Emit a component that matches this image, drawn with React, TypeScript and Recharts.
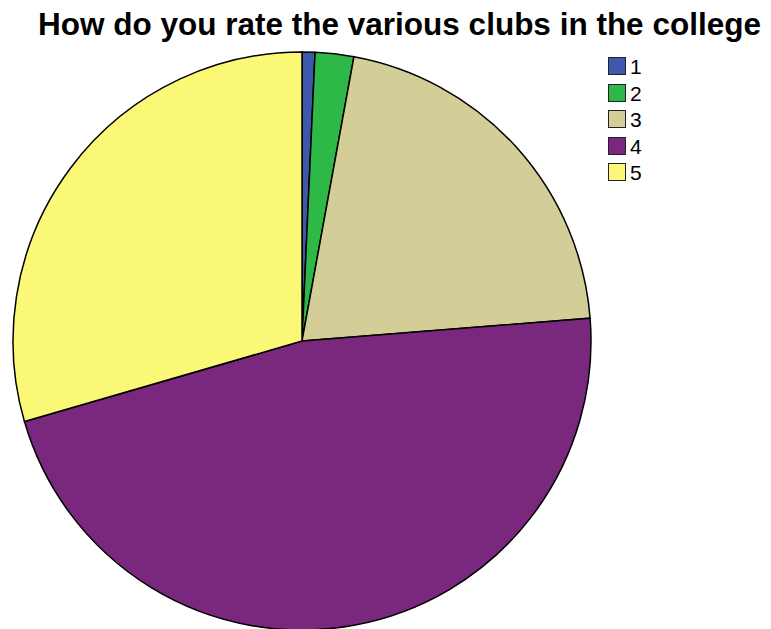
import React from "react";
import { PieChart, Pie, Cell } from "recharts";

const categories = ["1", "2", "3", "4", "5"];
const counts = [1, 3, 29, 65, 41];
const colors = ["#3E58AC", "#2EB848", "#D3CE97", "#79287E", "#FBF877"];
const title = "How do you rate the various clubs in the college";

const data = categories.map((c, i) => ({ name: c, value: counts[i] }));

const LegendBox = () => (
  <div
    style={{
      position: "absolute",
      left: 608,
      top: 57,
      fontFamily: "Liberation Sans, Arial, sans-serif",
      fontSize: 21,
    }}
  >
    {categories.map((c, i) => (
      <div key={c} style={{ display: "flex", alignItems: "center", height: 26.5 }}>
        <div
          style={{
            width: 18,
            height: 18,
            boxSizing: "border-box",
            background: colors[i],
            border: "1.5px solid #222",
            marginRight: 4,
            alignSelf: "flex-start",
          }}
        />
        <span style={{ color: "#000", lineHeight: "18px", alignSelf: "flex-start", marginTop: 1 }}>{c}</span>
      </div>
    ))}
  </div>
);

export default function App() {
  return (
    <div style={{ position: "absolute", left: 0, top: 0, width: 771, height: 629, background: "#fff" }}>
      <div
        style={{
          position: "absolute",
          left: 0,
          top: 6,
          width: 799,
          textAlign: "center",
          fontFamily: "Liberation Sans, Arial, sans-serif",
          fontWeight: "bold",
          fontSize: 31.5,
          color: "#000",
          whiteSpace: "nowrap",
        }}
      >
        {title}
      </div>
      <PieChart width={771} height={629} margin={{ top: 0, right: 0, bottom: 0, left: 0 }}>
        <Pie
          data={data}
          dataKey="value"
          nameKey="name"
          cx={302}
          cy={341}
          outerRadius={289}
          startAngle={90}
          endAngle={-270}
          stroke="#000"
          strokeWidth={1.5}
          isAnimationActive={false}
        >
          {data.map((d, i) => (
            <Cell key={d.name} fill={colors[i]} />
          ))}
        </Pie>
      </PieChart>
      <LegendBox />
    </div>
  );
}
